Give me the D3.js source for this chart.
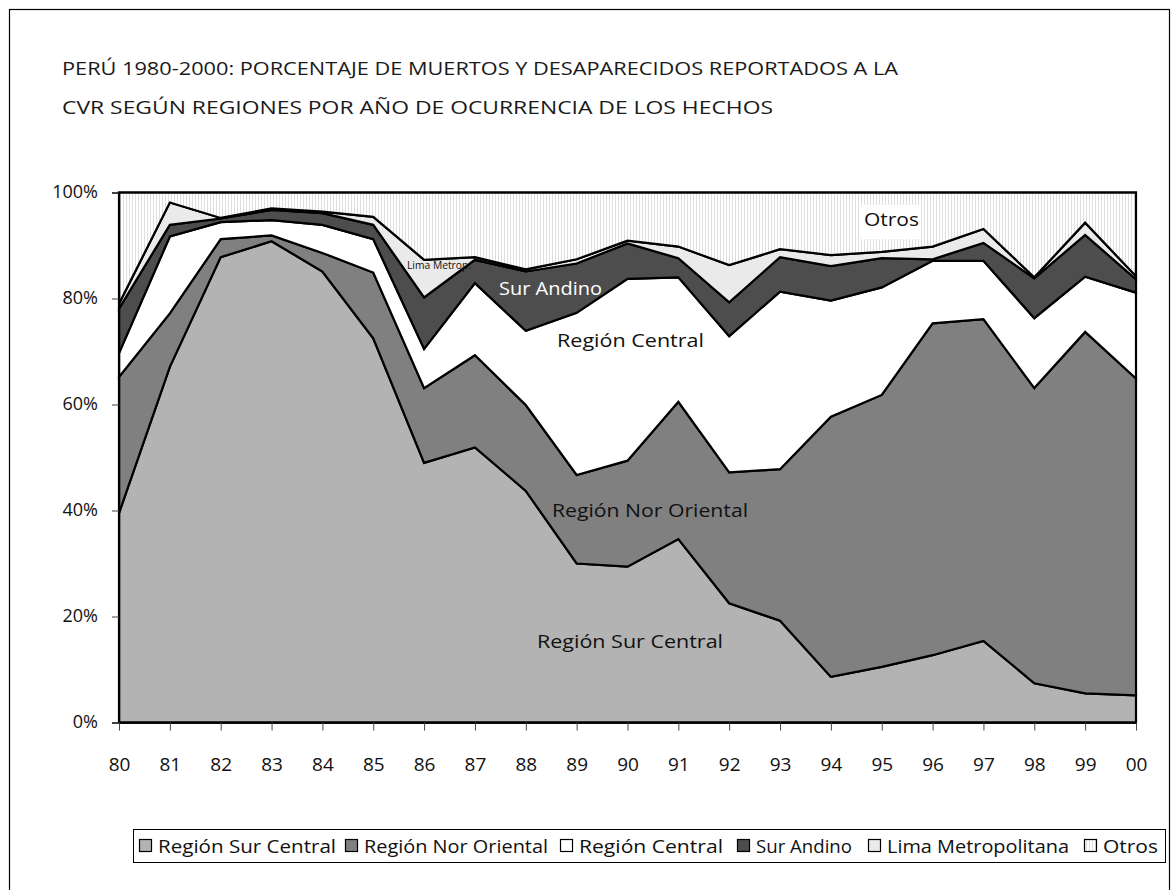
<!DOCTYPE html>
<html>
<head>
<meta charset="utf-8">
<script src="https://cdn.jsdelivr.net/npm/d3@7"></script>
<style>
  html, body { margin: 0; padding: 0; background: #fff; }
  svg { display: block; }
  text { font-family: "Open Sans", "DejaVu Sans", sans-serif; fill: #111; }
</style>
</head>
<body>
<svg id="chart" width="1172" height="890"></svg>
<script>
// ---------- data (percent of deaths per region, by year) ----------
const years = ["80","81","82","83","84","85","86","87","88","89","90","91","92","93","94","95","96","97","98","99","00"];
const surCentral    = [39.5,67.1,87.8,90.8,85.1,72.5,49.0,51.9,43.7,30.0,29.4,34.6,22.5,19.2,8.6,10.5,12.7,15.4,7.4,5.5,5.1];
const norOriental   = [25.7,10.1,3.4,1.1,3.5,12.4,14.1,17.4,16.2,16.7,20.0,25.9,24.7,28.6,49.1,51.3,62.6,60.7,55.7,68.2,59.8];
const central       = [4.5,14.5,3.2,2.9,5.3,6.3,7.4,13.6,14.0,30.6,34.3,23.5,25.7,33.5,21.9,20.3,11.8,11.0,13.2,10.4,16.2];
const surAndino     = [8.4,2.2,0.7,1.9,2.2,2.7,9.7,4.4,11.2,9.3,6.7,3.6,6.4,6.5,6.5,5.5,0.3,3.4,7.5,7.9,2.5];
const limaMetro     = [0.9,4.2,0.1,0.3,0.3,1.5,7.1,0.5,0.4,0.8,0.5,2.2,7.0,1.5,2.1,1.2,2.4,2.6,0.2,2.3,0.6];
const otros         = [21.0,1.9,4.8,3.0,3.6,4.6,12.7,12.2,14.5,12.6,9.1,10.2,13.7,10.7,11.8,11.2,10.2,6.9,16.0,5.7,15.8];
const seriesNames   = ["Región Sur Central","Región Nor Oriental","Región Central","Sur Andino","Lima Metropolitana","Otros"];
const yTicks        = [0,20,40,60,80,100];
const titleLines    = ["PERÚ 1980-2000: PORCENTAJE DE MUERTOS Y DESAPARECIDOS REPORTADOS A LA",
                       "CVR SEGÚN REGIONES POR AÑO DE OCURRENCIA DE LOS HECHOS"];

// ---------- build table ----------
const keys = ["sc","no","ce","sa","li","ot"];
const cols = [surCentral, norOriental, central, surAndino, limaMetro, otros];
const table = years.map((yr, i) => {
  const row = { year: yr };
  keys.forEach((k, j) => row[k] = cols[j][i]);
  return row;
});
const stacked = d3.stack().keys(keys)(table);

const svg = d3.select("#chart");

// pattern for "Otros"
const defs = svg.append("defs");
const pat = defs.append("pattern").attr("id","otrosPat").attr("patternUnits","userSpaceOnUse")
  .attr("width",3).attr("height",3);
pat.append("rect").attr("width",3).attr("height",3).attr("fill","#ffffff");
pat.append("rect").attr("x",0).attr("width",1).attr("height",3).attr("fill","#dedede");

const fills = ["#b3b3b3","#808080","#ffffff","#4d4d4d","#eaeaea","url(#otrosPat)"];

// outer border
svg.append("rect").attr("x",9.5).attr("y",9.5).attr("width",1160).attr("height",900)
  .attr("fill","none").attr("stroke","#000").attr("stroke-width",1.2);

// title
svg.selectAll("text.title").data(titleLines).join("text")
  .attr("class","title")
  .attr("x",62).attr("y",(d,i)=> 75 + i*39)
  .attr("font-size",19)
  .attr("textLength",(d,i)=> i===0 ? 836 : 711)
  .attr("lengthAdjust","spacingAndGlyphs")
  .style("fill","#1a1a1a")
  .text(d=>d);

// scales
const x = d3.scalePoint().domain(years).range([119, 1136]);
const y = d3.scaleLinear().domain([0,100]).range([722.5, 192.5]);

// areas
const area = d3.area().x(d=>x(d.data.year)).y0(d=>y(d[0])).y1(d=>y(d[1]));
svg.append("g").selectAll("path").data(stacked).join("path")
  .attr("d", area)
  .attr("fill",(d,i)=>fills[i])
  .attr("stroke","#000").attr("stroke-width",2.2).attr("stroke-linejoin","miter");

// plot border
svg.append("rect").attr("x",119).attr("y",192.5).attr("width",1017).attr("height",530)
  .attr("fill","none").attr("stroke","#000").attr("stroke-width",2);

// axes
const yAxis = d3.axisLeft(y).tickValues(yTicks).tickFormat(d=>d+"%").tickSize(7).tickPadding(14);
const gy = svg.append("g").attr("transform","translate(119,0)").call(yAxis);
gy.select(".domain").attr("stroke","#000").attr("stroke-width",1.5);
gy.selectAll(".tick line").attr("stroke","#444");
gy.selectAll(".tick text").attr("font-size",18).attr("font-family","Open Sans, sans-serif").attr("fill","#111").attr("dy","0.3em");

const xAxis = d3.axisBottom(x).tickSize(8).tickSizeOuter(0);
const gx = svg.append("g").attr("transform","translate(0,722.5)").call(xAxis);
gx.select(".domain").attr("stroke","#000").attr("stroke-width",1.5);
gx.selectAll(".tick line").attr("stroke","#444");
gx.selectAll(".tick text").attr("font-size",19).attr("font-family","Open Sans, sans-serif").attr("fill","#111")
  .attr("y",48.5).attr("dy",0);

// in-chart labels
svg.append("rect").attr("x",861).attr("y",205).attr("width",60).attr("height",34).attr("fill","#fff");
const labels = [
  {t:"Otros", x:864, y:226, s:19, w:55, c:"#111"},
  {t:"Lima Metrop.", x:407, y:269, s:10, w:64, c:"#111"},
  {t:"Sur Andino", x:499, y:295, s:19, w:103, c:"#fff"},
  {t:"Región Central", x:557, y:347, s:19, w:147, c:"#111"},
  {t:"Región Nor Oriental", x:552, y:517, s:19, w:196, c:"#111"},
  {t:"Región Sur Central", x:537, y:648, s:19, w:186, c:"#111"}
];
svg.selectAll("text.lbl").data(labels).join("text").attr("class","lbl")
  .attr("x",d=>d.x).attr("y",d=>d.y).attr("font-size",d=>d.s)
  .attr("textLength",d=>d.w).attr("lengthAdjust","spacingAndGlyphs")
  .style("fill",d=>d.c).text(d=>d.t);

// legend
svg.append("rect").attr("x",133.5).attr("y",829.5).attr("width",1032).attr("height",33)
  .attr("fill","#fff").attr("stroke","#000").attr("stroke-width",1);
const legX = [138, 344, 559, 736, 867, 1083];
const legW = [178, 184, 144, 96, 182, 55];
const lg = svg.append("g");
seriesNames.forEach((name, i) => {
  lg.append("rect").attr("x",legX[i]+1.5).attr("y",839.5).attr("width",12).attr("height",12)
    .attr("fill",fills[i]).attr("stroke","#000").attr("stroke-width",1.2);
  lg.append("text").attr("x",legX[i]+20).attr("y",853).attr("font-size",18)
    .attr("textLength",legW[i]).attr("lengthAdjust","spacingAndGlyphs").text(name);
});
</script>
</body>
</html>
